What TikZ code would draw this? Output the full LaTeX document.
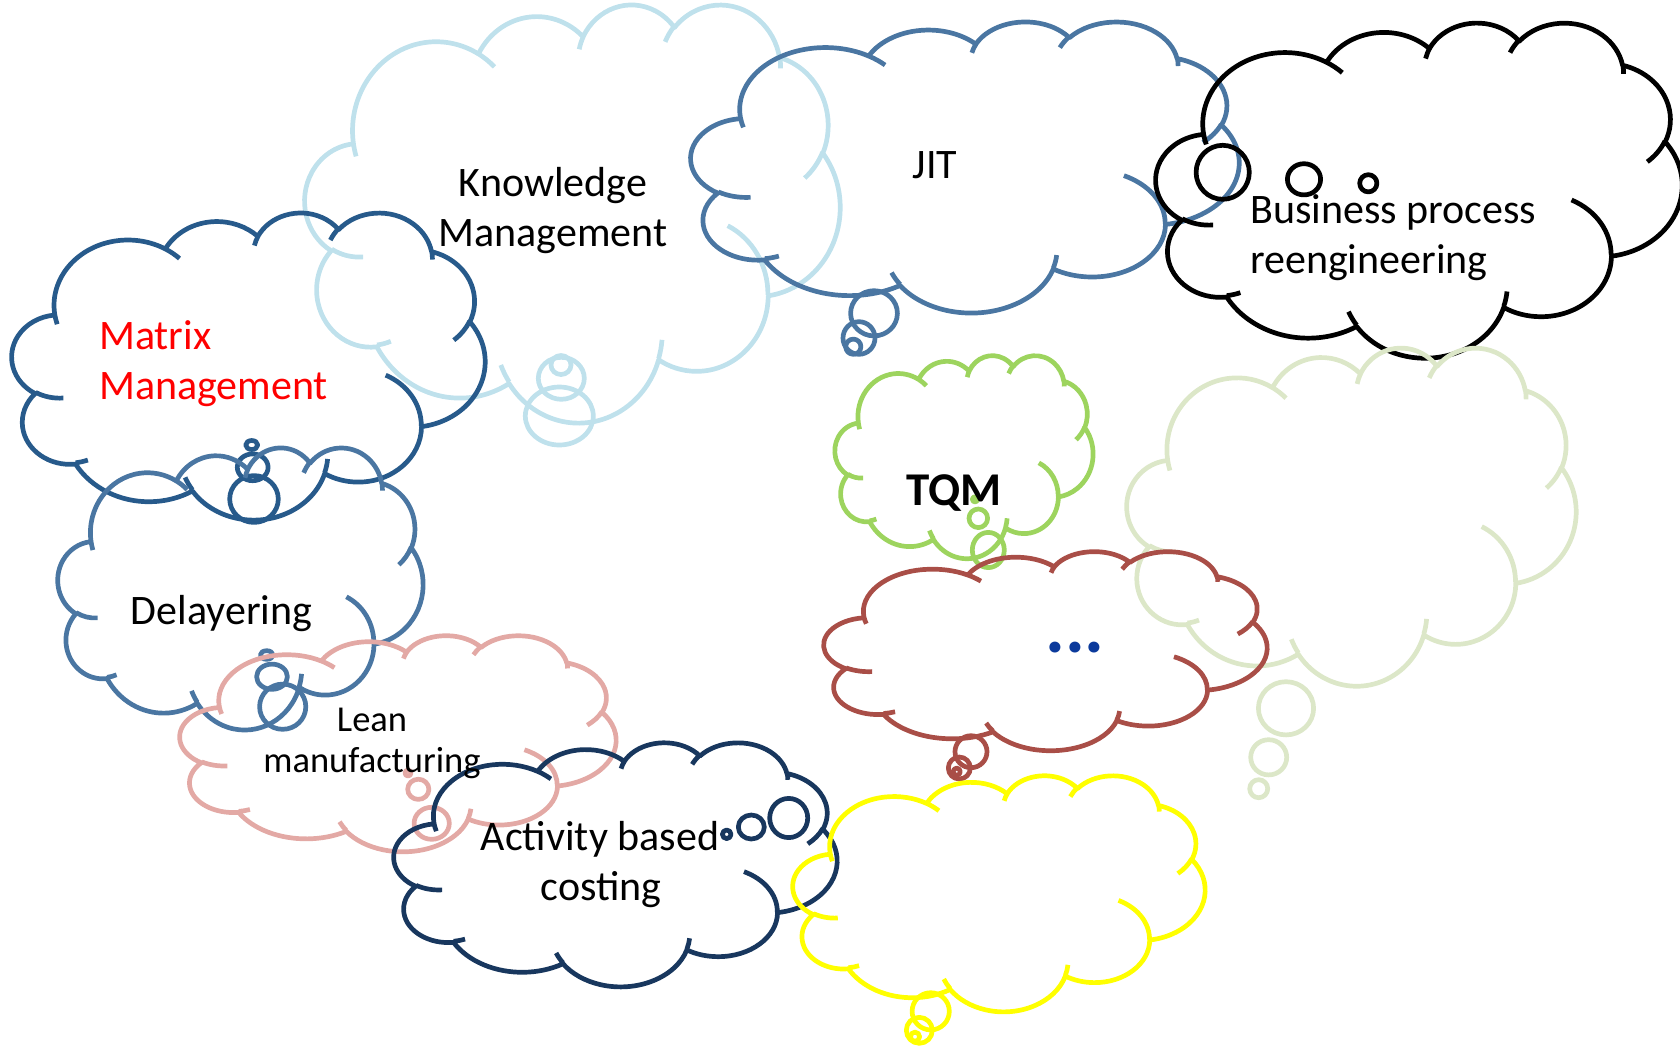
\documentclass[tikz,border=0pt]{standalone}
\usepackage{fontspec}
\setmainfont{Carlito}
\definecolor{kmc}{HTML}{BFE1EC}
\definecolor{jitc}{HTML}{4A76A2}
\definecolor{mmc}{HTML}{275A8B}
\definecolor{tqmc}{HTML}{9DD45E}
\definecolor{pgc}{HTML}{DCE7C8}
\definecolor{redc}{HTML}{A94E47}
\definecolor{pinkc}{HTML}{E3A9A5}
\definecolor{navyc}{HTML}{18375E}
\definecolor{yelc}{HTML}{FFFF00}
\definecolor{dotc}{HTML}{0B3A9C}
% arc with DrawingML (visual) angles, in the 432 x 432 path frame
\newcommand\carc[4]{\pgfextra{%
  \pgfmathparse{atan2((#1)*sin(#3),(#2)*cos(#3))}\global\let\tS\pgfmathresult
  \pgfmathparse{atan2((#1)*sin((#3)+(#4)),(#2)*cos((#3)+(#4)))}\global\let\tE\pgfmathresult
  \pgfmathparse{\tE-(\tS)}\global\let\dT\pgfmathresult
  \pgfmathparse{\dT-360*round((\dT-(#4))/360)}\global\let\dT\pgfmathresult}%
  arc[x radius=#1, y radius=#2, start angle=\tS, delta angle=\dT]}
\newcommand\cloudpath{%
 (39.00,143.70) \carc{67.53}{91.90}{-190.4875}{123.7805}
 \carc{53.33}{72.67}{-144.1024}{89.9452}
 \carc{43.65}{59.45}{-145.8079}{99.7230}
 \carc{48.57}{65.95}{-130.9861}{117.2417}
 \carc{53.33}{72.73}{-78.7089}{109.0269}
 \carc{67.75}{92.20}{-46.2673}{130.2690}
 \carc{57.85}{78.67}{0.6250}{114.0333}
 \carc{67.52}{92.15}{22.4516}{115.1726}
 \carc{77.20}{105.43}{66.2426}{75.7110}
 \carc{43.60}{59.18}{-274.9421}{146.7356}
 \carc{43.45}{59.45}{-246.8285}{152.5189}
 -- cycle
 (46.93,261.77) \carc{43.45}{59.45}{86.7420}{26.4295}
 (69.28,348.99) \carc{43.60}{59.18}{73.6105}{11.4475}
 (164.78,390.90) \carc{67.52}{92.15}{137.6242}{14.0811}
 (288.27,347.51) \carc{67.52}{92.15}{6.4533}{15.9984}
 (341.29,229.54) \carc{57.85}{78.67}{-70.2924}{70.9174}
 (417.98,153.54) \carc{53.33}{72.73}{30.3180}{27.7515}
 (383.24,54.26) \carc{48.57}{65.95}{-13.7443}{14.8589}
 (290.78,39.52) \carc{48.57}{65.95}{-149.1815}{18.1954}
 (221.41,47.20) \carc{43.65}{59.45}{-163.4943}{17.6864}
 (140.00,51.92) \carc{67.53}{91.90}{-66.7070}{12.3194}
 (41.27,157.89) \carc{67.53}{91.90}{157.6544}{11.8582}
}
% cloud outline in the box with top-left (#1,#2), width #3, height #4
\newcommand\cloudshape[5]{%
  \pgfmathsetmacro\cux{#3/432}\pgfmathsetmacro\cuy{#4/432}%
  \begin{scope}[shift={(#1,#2)}, x=\cux pt, y=-\cuy pt]
    \draw[#5] \cloudpath;
  \end{scope}}
\newcommand\bub[5]{\draw[#5] (#1,#2) ellipse [x radius=#3pt, y radius=#4pt];}
\begin{document}
\begin{tikzpicture}[x=1pt,y=-1pt,
  cl/.style={line width=4.7pt, line join=round},
  kmline/.style={cl, draw=kmc},
  jitline/.style={cl, draw=jitc},
  mmline/.style={cl, draw=mmc},
  bprline/.style={cl, draw=black},
  tqmline/.style={cl, draw=tqmc},
  pgline/.style={cl, draw=pgc},
  redline/.style={cl, draw=redc},
  pinkline/.style={cl, draw=pinkc},
  navyline/.style={cl, draw=navyc},
  yelline/.style={cl, draw=yelc},
  lbl/.style={font=\fontsize{42}{50}\selectfont, inner sep=0pt},
  smalllbl/.style={font=\fontsize{36.5}{42}\selectfont, inner sep=0pt}]
\useasboundingbox (0,0) rectangle (1680,1047);
% Knowledge Management
\cloudshape{305}{3.6}{535}{418}{kmline}
\bub{561}{365}{10}{9.5}{kmline}
\bub{561.3}{378.3}{23}{21}{kmline}
\bub{559.3}{416}{34}{29}{kmline}
% Matrix Management
\cloudshape{12}{212}{473}{307}{mmline}
\bub{251.7}{445}{6}{4.5}{mmline}
\bub{252.7}{467.3}{15.4}{13.4}{mmline}
\bub{254}{499}{24.3}{23.4}{mmline}
% JIT
\cloudshape{691}{21}{548}{291}{jitline}
\bub{874}{313.3}{23.4}{22.6}{jitline}
\bub{859}{338}{16}{16.3}{jitline}
\bub{853.3}{346.7}{7.6}{7.6}{jitline}
% Business process reengineering
\cloudshape{1156}{22}{526}{335}{bprline}
\bub{1222.7}{172.3}{26.6}{27}{bprline}
\bub{1304}{179.3}{16.6}{15.6}{bprline}
\bub{1368.3}{183.3}{8.6}{8.6}{bprline}
% Delayering
\cloudshape{58}{447}{365}{282}{jitline}
\bub{266.7}{655}{6.4}{4.3}{jitline}
\bub{272}{676.7}{15.4}{12.6}{jitline}
\bub{282.7}{706.7}{23.1}{22.6}{jitline}
% Lean manufacturing
\cloudshape{180}{635}{436}{216}{pinkline}
\bub{408}{773}{3}{3}{pinkline}
\bub{418.3}{789.3}{10.6}{10.1}{pinkline}
\bub{431.7}{823.3}{17.6}{16}{pinkline}
% Activity based costing
\cloudshape{394}{742}{443}{244}{navyline}
\bub{726.7}{834.3}{4.3}{4.3}{navyline}
\bub{751.3}{827}{13}{12}{navyline}
\bub{788.7}{818}{19}{19.6}{navyline}
% pale green
\cloudshape{1127}{347}{449}{338}{pgline}
\bub{1286}{708.3}{27.6}{26.6}{pgline}
\bub{1268.7}{757.3}{18}{17.6}{pgline}
\bub{1258.7}{788.7}{9}{9}{pgline}
% TQM
\cloudshape{835}{355}{258}{203}{tqmline}
\bub{975}{499.3}{2.6}{2.6}{tqmline}
\bub{978.3}{518.3}{9.3}{9.3}{tqmline}
\bub{988.3}{550}{16}{17.6}{tqmline}
% red
\cloudshape{824}{551}{443}{199}{redline}
\bub{971}{751.7}{16}{16}{redline}
\bub{959.3}{768}{11}{11}{redline}
\bub{956.7}{771.7}{3.6}{3.6}{redline}
% yellow
\cloudshape{793}{775}{412}{236}{yelline}
\bub{930.7}{1011.3}{18.6}{18.6}{yelline}
\bub{919.3}{1030.3}{13}{13}{yelline}
\bub{915}{1036.7}{4.6}{4.6}{yelline}
% texts
\node[lbl, anchor=base] (km1) at (553,196.7) {Knowledge};
\node[lbl, anchor=base] (km2) at (553,246.7) {Management};
\node[lbl, anchor=base] (jit) at (935,178) {JIT};
\node[lbl, anchor=base west] (bpr1) at (1250,223.5) {Business process};
\node[lbl, anchor=base west] (bpr2) at (1250,273.5) {reengineering};
\node[lbl, anchor=base west, text=red] (mm1) at (99,349) {Matrix};
\node[lbl, anchor=base west, text=red] (mm2) at (99,399) {Management};
\node[lbl, anchor=base] (del) at (221.5,624) {Delayering};
\node[smalllbl, anchor=base] (lean1) at (372,731) {Lean};
\node[smalllbl, anchor=base] (lean2) at (372,772) {manufacturing};
\node[lbl, anchor=base] (abc1) at (600,850) {Activity based};
\node[lbl, anchor=base] (abc2) at (601,900) {costing};
\node[inner sep=0pt, anchor=base, font=\bfseries\fontsize{47}{56}\selectfont] (tqm) at (954,505) {TQM};
\node[inner sep=0pt, anchor=base, text=dotc, font=\bfseries\fontsize{74}{80}\selectfont] (dots) at (1075,652) {...};
\end{tikzpicture}
\end{document}
